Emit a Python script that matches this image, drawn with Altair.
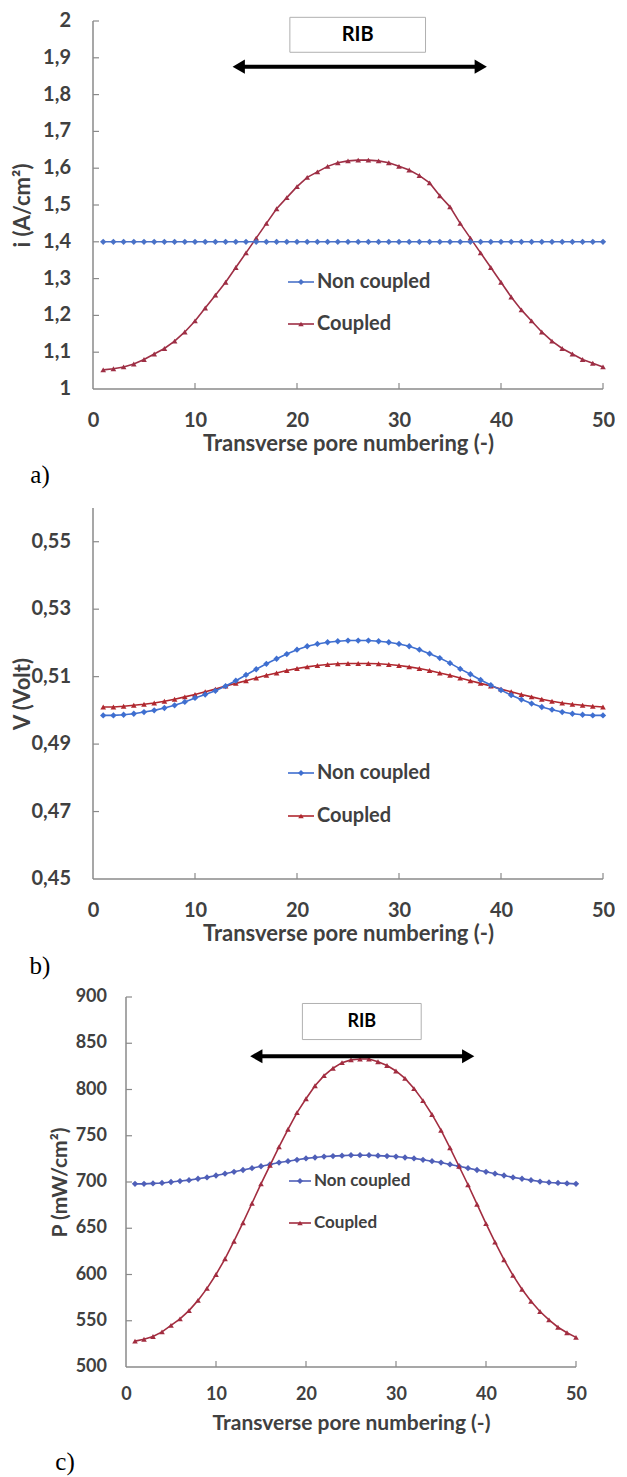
import altair as alt
import pandas as pd

pores = list(range(1, 51))

# ---- panel a : current density (A/cm2)
i_noncoupled = [1.40] * 50
i_coupled = [1.052, 1.055, 1.060, 1.068, 1.080, 1.095, 1.110, 1.130, 1.155, 1.185,
             1.220, 1.255, 1.290, 1.330, 1.370, 1.410, 1.450, 1.490, 1.520, 1.550,
             1.575, 1.590, 1.605, 1.615, 1.620, 1.622, 1.622, 1.620, 1.615, 1.605,
             1.595, 1.580, 1.560, 1.525, 1.495, 1.450, 1.410, 1.370, 1.330, 1.290,
             1.250, 1.215, 1.185, 1.155, 1.130, 1.110, 1.095, 1.080, 1.070, 1.060]

# ---- panel b : voltage (Volt)
v_noncoupled = [0.4985, 0.4985, 0.4987, 0.4990, 0.4995, 0.5000, 0.5007, 0.5015, 0.5025, 0.5037,
                0.5047, 0.5058, 0.5072, 0.5088, 0.5105, 0.5122, 0.5138, 0.5153, 0.5167, 0.5180,
                0.5190, 0.5197, 0.5202, 0.5205, 0.5207, 0.5207, 0.5207, 0.5205, 0.5202, 0.5197,
                0.5190, 0.5180, 0.5168, 0.5155, 0.5140, 0.5123, 0.5107, 0.5090, 0.5075, 0.5060,
                0.5045, 0.5032, 0.5020, 0.5010, 0.5002, 0.4995, 0.4990, 0.4987, 0.4985, 0.4985]
v_coupled = [0.5010, 0.5010, 0.5012, 0.5015, 0.5018, 0.5022, 0.5027, 0.5033, 0.5040, 0.5047,
             0.5055, 0.5063, 0.5072, 0.5080, 0.5088, 0.5096, 0.5104, 0.5111, 0.5118, 0.5124,
             0.5129, 0.5133, 0.5136, 0.5138, 0.5139, 0.5139, 0.5139, 0.5138, 0.5136, 0.5133,
             0.5129, 0.5124, 0.5118, 0.5111, 0.5104, 0.5096, 0.5088, 0.5080, 0.5072, 0.5063,
             0.5055, 0.5047, 0.5040, 0.5033, 0.5027, 0.5022, 0.5018, 0.5015, 0.5012, 0.5010]

# ---- panel c : power density (mW/cm2)
p_noncoupled = [698, 698, 698.5, 699, 700, 701, 702, 703.5, 705, 707,
                709, 711, 713, 715, 717, 719, 721, 722.5, 724, 725.5,
                726.5, 727.5, 728, 728.5, 729, 729, 729, 728.5, 728, 727.5,
                726.5, 725.5, 724, 722.5, 721, 719, 717, 715, 713, 711,
                709, 707, 705, 703.5, 702, 700.5, 699.5, 699, 698.5, 698]
p_coupled = [528, 530, 533, 538, 545, 552, 561, 572, 585, 600,
             617, 636, 656, 677, 698, 718, 738, 757, 775, 790,
             804, 815, 823, 829, 832, 833, 833, 830, 826, 820,
             812, 801, 788, 773, 756, 737, 717, 697, 676, 655,
             635, 616, 599, 584, 571, 560, 551, 543, 537, 532]

x_ticks = [0, 10, 20, 30, 40, 50]
i_ticks = [1.0, 1.1, 1.2, 1.3, 1.4, 1.5, 1.6, 1.7, 1.8, 1.9, 2.0]
v_ticks = [0.45, 0.47, 0.49, 0.51, 0.53, 0.55]
p_ticks = [500, 550, 600, 650, 700, 750, 800, 850, 900]

series_names = ["Non coupled", "Coupled"]
rib_label = "RIB"
rib_arrow_a = [13.6, 38.7, 1.876]
rib_box_a = [19.3, 32.6, 1.915, 2.010]
rib_arrow_c = [13.7, 38.8, 836]
rib_box_c = [19.6, 32.8, 854, 893]

FONT = "Lato"
GREY = "#404040"
AXC = "#8a8a8a"


def panel(noncoupled, coupled, ydom, yticks, yfmt, ytitle, w, h, xshift, blue, red,
          panel_label, fs, tfs, xlab_pad, ylab_pad, xtitle_pad, title_x, xtitle_center,
          leg, tag_xy, frame, rib=None, red_on_top=False):
    plot_w = w - xshift
    x0 = -xshift * 50.0 / plot_w  # scale starts left of 0 when the plot is shifted
    df_nc = pd.DataFrame({"x": pores, "y": noncoupled})
    df_c = pd.DataFrame({"x": pores, "y": coupled})
    xenc = alt.X("x:Q", scale=alt.Scale(domain=[x0, 50], nice=False, zero=False),
                 axis=alt.Axis(values=x_ticks, grid=False, ticks=False, domain=False,
                               labelFont=FONT, labelFontWeight="bold",
                               labelFontSize=fs, labelColor=GREY, labelPadding=xlab_pad,
                               labelFlush=False, labelOverlap=False,
                               title="Transverse pore numbering (-)",
                               titleFont=FONT, titleFontWeight="bold", titleFontSize=tfs,
                               titleColor=GREY, titlePadding=xtitle_pad,
                               titleX=xtitle_center, titleAlign="center"))
    yenc = alt.Y("y:Q", scale=alt.Scale(domain=ydom, nice=False, zero=False),
                 axis=alt.Axis(grid=False, ticks=False, domain=False, labels=False,
                               title=ytitle, titleFont=FONT, titleFontWeight="bold",
                               titleFontSize=tfs, titleColor=GREY, titleAngle=-90,
                               titleX=title_x, titleY=h / 2, titleAlign="center",
                               titleBaseline="middle"))

    layers = []
    # invisible frame that fixes the panel's outer bounds
    L, T, B = frame
    fr = pd.DataFrame({"t": ["frame"]})
    layers.append(alt.Chart(fr).mark_rule(color="white", strokeOpacity=0).encode(
        x=alt.value(-L), y=alt.value(-T), y2=alt.value(h + B)))

    # axis lines
    ax_y = pd.DataFrame({"x": [0], "y": [ydom[0]], "y2": [ydom[1]]})
    layers.append(alt.Chart(ax_y).mark_rule(color=AXC, strokeWidth=1.5).encode(
        x=xenc, y=yenc, y2="y2:Q"))
    ax_x = pd.DataFrame({"x": [0], "x2": [50], "y": [ydom[0]]})
    layers.append(alt.Chart(ax_x).mark_rule(color=AXC, strokeWidth=1.5).encode(
        x=xenc, x2="x2:Q", y=yenc))

    # inward ticks
    ytk = pd.DataFrame({"y": yticks[1:], "x": [0] * (len(yticks) - 1)})
    layers.append(alt.Chart(ytk).mark_rule(color=AXC, strokeWidth=1.2, x2Offset=6).encode(
        y=yenc, x=xenc, x2="x:Q"))
    xtk = pd.DataFrame({"x": x_ticks[1:], "y": [ydom[0]] * (len(x_ticks) - 1)})
    layers.append(alt.Chart(xtk).mark_rule(color=AXC, strokeWidth=1.2, y2Offset=-6).encode(
        x=xenc, y=yenc, y2="y:Q"))

    # y tick labels (decimal comma)
    ylab = pd.DataFrame({"y": yticks, "x": [0] * len(yticks)})
    layers.append(alt.Chart(ylab).transform_calculate(
        lab="replace(format(datum.y, '%s'), '.', ',')" % yfmt
    ).mark_text(align="right", baseline="middle", dx=-ylab_pad, font=FONT, fontWeight="bold",
                fontSize=fs, color=GREY).encode(x=xenc, y=yenc, text="lab:N"))

    red_layers = [
        alt.Chart(df_c).mark_line(color=red, strokeWidth=1.6).encode(x=xenc, y=yenc),
        alt.Chart(df_c).mark_point(shape="triangle-up", filled=True, color=red, size=32,
                                   opacity=1).encode(x=xenc, y=yenc),
    ]
    blue_layers = [
        alt.Chart(df_nc).mark_line(color=blue, strokeWidth=1.6).encode(x=xenc, y=yenc),
        alt.Chart(df_nc).mark_point(shape="diamond", filled=True, color=blue, size=40,
                                    opacity=1).encode(x=xenc, y=yenc),
    ]
    if red_on_top:
        layers += blue_layers + red_layers
    else:
        layers += red_layers + blue_layers

    if rib is not None:
        arrow, box = rib
        box_df = pd.DataFrame({"x": [box[0]], "x2": [box[1]], "y": [box[2]], "y2": [box[3]]})
        layers.append(alt.Chart(box_df).mark_rect(fill="white", stroke="#b0b0b0",
                                                   strokeWidth=1).encode(
            x=xenc, x2="x2:Q", y=yenc, y2="y2:Q"))
        txt_df = pd.DataFrame({"x": [(box[0] + box[1]) / 2], "y": [(box[2] + box[3]) / 2],
                               "t": [rib_label]})
        layers.append(alt.Chart(txt_df).mark_text(font=FONT, fontWeight="bold", fontSize=fs,
                                                   color="black", baseline="middle").encode(
            x=xenc, y=yenc, text="t:N"))
        ar_df = pd.DataFrame({"x": [arrow[0]], "x2": [arrow[1]], "y": [arrow[2]]})
        layers.append(alt.Chart(ar_df).mark_rule(color="black", strokeWidth=4, xOffset=8,
                                                 x2Offset=-8).encode(
            x=xenc, x2="x2:Q", y=yenc))
        hl = pd.DataFrame({"x": [arrow[0]], "y": [arrow[2]]})
        hr = pd.DataFrame({"x": [arrow[1]], "y": [arrow[2]]})
        layers.append(alt.Chart(hl).mark_point(shape="triangle-left", filled=True, color="black",
                                               size=200, opacity=1, xOffset=7).encode(
            x=xenc, y=yenc))
        layers.append(alt.Chart(hr).mark_point(shape="triangle-right", filled=True, color="black",
                                               size=200, opacity=1, xOffset=-7).encode(
            x=xenc, y=yenc))

    # legend (drawn inside the plot, as in the reference)
    lx, ly, gap, lfs, llen = leg
    for k, (name, col, shp, sz) in enumerate([(series_names[0], blue, "diamond", 36),
                                              (series_names[1], red, "triangle-up", 30)]):
        d = pd.DataFrame({"t": [name]})
        yy = ly + k * gap
        layers.append(alt.Chart(d).mark_rule(color=col, strokeWidth=1.6).encode(
            x=alt.value(lx), x2=alt.value(lx + llen), y=alt.value(yy)))
        layers.append(alt.Chart(d).mark_point(shape=shp, filled=True, color=col, size=sz,
                                              opacity=1).encode(
            x=alt.value(lx + llen / 2), y=alt.value(yy)))
        layers.append(alt.Chart(d).mark_text(align="left", baseline="middle", font=FONT,
                                             fontWeight="bold", fontSize=lfs, color=GREY).encode(
            x=alt.value(lx + llen + 3), y=alt.value(yy), text="t:N"))

    # panel tag a) b) c)
    tg = pd.DataFrame({"t": [panel_label]})
    layers.append(alt.Chart(tg).mark_text(align="center", baseline="middle",
                                          font="Liberation Serif", fontSize=25,
                                          color="black").encode(
        x=alt.value(tag_xy[0]), y=alt.value(tag_xy[1]), text="t:N"))

    return alt.layer(*layers).properties(width=w, height=h)


pa = panel(i_noncoupled, i_coupled, [1, 2], i_ticks, ".1~f", "i (A/cm²)", 510, 368, 0,
           "#4a72c8", "#9e2f45", "a)", 20, 22, 21, 22, 3, -71, 255,
           (195, 261, 42, 20, 26), (-53, 454), frame=(85, 13, 117),
           rib=(rib_arrow_a, rib_box_a))
pb = panel(v_noncoupled, v_coupled, [0.45, 0.56], v_ticks, ".2f", "V (Volt)", 510, 371, 0,
           "#3f6fd0", "#b0282f", "b)", 20, 22, 21, 22, 3, -71, 255,
           (195, 265, 43, 20, 26), (-53, 458), frame=(85, 2, 108))
pc = panel(p_noncoupled, p_coupled, [500, 900], p_ticks, "d", "P (mW/cm²)", 483, 370, 33,
           "#4f5fb8", "#a22d40", "c)", 18, 21, 18, 19, 9, -33, 258,
           (196, 184, 42, 17, 22), (-28, 465), frame=(10, 10, 470),
           rib=(rib_arrow_c, rib_box_c), red_on_top=True)

chart = alt.vconcat(pa, pb, pc, spacing=0).properties(padding=0).configure_view(stroke=None)

chart.save("out.html", embed_options={"renderer": "svg", "actions": False})
